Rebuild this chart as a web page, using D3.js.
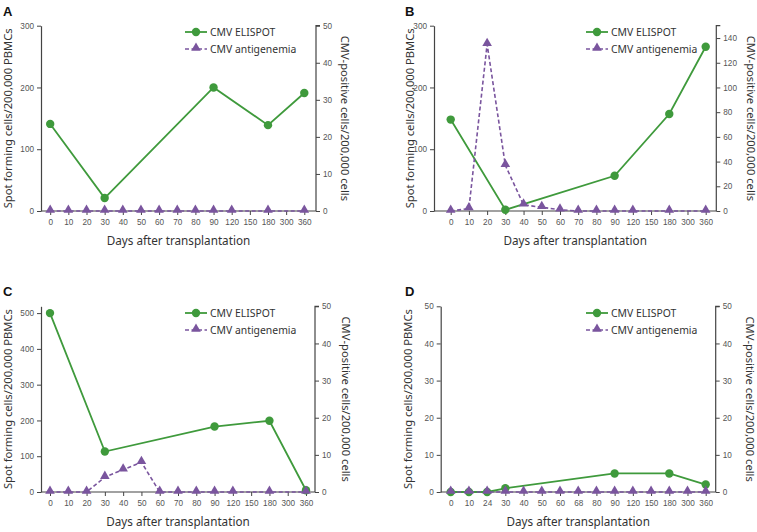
<!DOCTYPE html>
<html><head><meta charset="utf-8">
<script src="https://cdn.jsdelivr.net/npm/d3@7"></script>
<style>body{margin:0;background:#fff}svg{display:block}</style>
</head><body>
<svg id="c" width="757" height="532"></svg>
<script>
// ---- data ----
const daysA = ["0","10","20","30","40","50","60","70","80","90","120","150","180","300","360"];
const daysB = ["0","10","20","30","40","50","60","70","80","90","120","150","180","300","360"];
const daysC = ["0","10","20","30","40","50","60","70","80","90","120","150","180","300","360"];
const daysD = ["0","10","24","30","40","50","60","68","80","90","120","150","180","300","360"];

const elispotA = [["0",141],["30",21],["90",200],["180",139],["360",191]];
const antigenA = [["0",0],["10",0],["20",0],["30",0],["40",0],["50",0],["60",0],["70",0],["80",0],["90",0],["120",0],["180",0],["360",0]];

const elispotB = [["0",148],["30",2],["90",57],["180",157],["360",266]];
const antigenB = [["0",0],["10",2],["20",135],["30",37],["40",5],["50",3],["60",1],["70",0],["80",0],["90",0],["120",0],["180",0],["360",0]];

const elispotC = [["0",500],["30",113],["90",183],["180",199],["360",5]];
const antigenC = [["0",0],["10",0],["20",0],["30",4],["40",6],["50",8],["60",0],["70",0],["80",0],["90",0],["120",0],["180",0],["360",0]];

const elispotD = [["0",0],["10",0],["24",0],["30",1],["90",5],["180",5],["360",2]];
const antigenD = [["0",0],["10",0],["24",0],["30",0],["40",0],["50",0],["60",0],["68",0],["80",0],["90",0],["120",0],["150",0],["180",0],["300",0],["360",0]];

const leftTicksA = [0,100,200,300], rightTicksA = [0,10,20,30,40,50];
const leftTicksB = [0,100,200,300], rightTicksB = [0,20,40,60,80,100,120,140];
const leftTicksC = [0,100,200,300,400,500], rightTicksC = [0,10,20,30,40,50];
const leftTicksD = [0,10,20,30,40,50], rightTicksD = [0,10,20,30,40,50];

const seriesNames = ["CMV ELISPOT","CMV antigenemia"];
const yLeftTitle = "Spot forming cells/200,000 PBMCs";
const yRightTitle = "CMV-positive cells/200,000 cells";
const xTitle = "Days after transplantation";

// ---- layout ----
const GREEN = "#3f9a3c", PURPLE = "#7a559e", AXIS = "#444", TICKTXT = "#555";
const panels = [
  {label:"A", lx:3, ly:16, days:daysA, el:elispotA, ag:antigenA, lt:leftTicksA, rt:rightTicksA, ldom:[0,300], rdom:[0,50],
   L:41, R:316, top:25.7, bot:211, x0:50.2, x1:304.3, ltx:7, rtx:345, legX:185, legY:32},
  {label:"B", lx:405, ly:16, days:daysB, el:elispotB, ag:antigenB, lt:leftTicksB, rt:rightTicksB, ldom:[0,300], rdom:[0,150],
   L:434, R:716.3, top:25.7, bot:211, x0:450.7, x1:705.7, ltx:409, rtx:751, legX:586, legY:32},
  {label:"C", lx:3, ly:296, days:daysC, el:elispotC, ag:antigenC, lt:leftTicksC, rt:rightTicksC, ldom:[0,519], rdom:[0,50],
   L:41, R:315, top:306.3, bot:492, x0:50, x1:306, ltx:7.5, rtx:346, legX:185, legY:313},
  {label:"D", lx:405, ly:296, days:daysD, el:elispotD, ag:antigenD, lt:leftTicksD, rt:rightTicksD, ldom:[0,50], rdom:[0,50],
   L:440.7, R:715.7, top:306.3, bot:492, x0:450.7, x1:705.7, ltx:407, rtx:750, legX:586, legY:313}
];

const svg = d3.select("#c");
const tri = d3.symbol().type(d3.symbolTriangle).size(40);
const tf = "Noto Sans, Open Sans, sans-serif";
const nf = "Liberation Sans, Arial, sans-serif";

panels.forEach(p => {
  const g = svg.append("g");
  const x = d3.scalePoint().domain(p.days).range([p.x0, p.x1]);
  const yl = d3.scaleLinear().domain(p.ldom).range([p.bot, p.top]);
  const yr = d3.scaleLinear().domain(p.rdom).range([p.bot, p.top]);

  g.append("text").attr("x", p.lx).attr("y", p.ly).text(p.label)
    .attr("font-family",nf).attr("font-weight","bold").attr("font-size",13).attr("fill","#111");

  // x axis
  const xa = g.append("g").attr("transform",`translate(0,${p.bot})`)
    .call(d3.axisBottom(x).tickSize(4).tickPadding(4));
  xa.select(".domain").remove();
  g.append("line").attr("x1",p.L).attr("x2",p.R).attr("y1",p.bot).attr("y2",p.bot).attr("stroke",AXIS).attr("stroke-width",1.2);

  const la = g.append("g").attr("transform",`translate(${p.L},0)`)
    .call(d3.axisLeft(yl).tickValues(p.lt).tickSize(4).tickPadding(3).tickSizeOuter(0));
  const ra = g.append("g").attr("transform",`translate(${p.R},0)`)
    .call(d3.axisRight(yr).tickValues(p.rt).tickSize(4).tickPadding(3).tickSizeOuter(0));
  [xa,la,ra].forEach(a => {
    a.selectAll("text").attr("font-family",nf).attr("font-size",8.2).attr("fill",TICKTXT);
    a.selectAll("line").attr("stroke",AXIS);
    a.select(".domain").attr("stroke",AXIS).attr("stroke-width",1.2);
  });
  ra.select(".domain").attr("d",`M0,${p.bot}V${p.top}H4`);

  // titles
  g.append("text").attr("transform",`translate(${p.ltx},${(p.top+p.bot)/2}) rotate(-90)`)
    .attr("text-anchor","middle").attr("dominant-baseline","central")
    .attr("font-family",tf).attr("font-size",11.2).attr("fill","#333").text(yLeftTitle);
  g.append("text").attr("transform",`translate(${p.rtx},${(p.top+p.bot)/2}) rotate(90)`)
    .attr("text-anchor","middle").attr("dominant-baseline","central")
    .attr("font-family",tf).attr("font-size",11.2).attr("fill","#333").text(yRightTitle);
  g.append("text").attr("x",(p.L+p.R)/2).attr("y",p.bot+34).attr("text-anchor","middle")
    .attr("font-family",tf).attr("font-size",11.7).attr("fill","#333").text(xTitle);

  // ELISPOT
  const le = d3.line().x(d => x(d[0])).y(d => yl(d[1]));
  g.append("path").datum(p.el).attr("d",le).attr("fill","none").attr("stroke",GREEN).attr("stroke-width",1.8);
  g.selectAll(".ce").data(p.el).join("circle").attr("cx",d=>x(d[0])).attr("cy",d=>yl(d[1])).attr("r",4.2).attr("fill",GREEN);

  // antigenemia
  const la2 = d3.line().x(d => x(d[0])).y(d => yr(d[1]));
  g.append("path").datum(p.ag).attr("d",la2).attr("fill","none").attr("stroke",PURPLE).attr("stroke-width",1.6).attr("stroke-dasharray","4,2.5");
  g.selectAll(".ta").data(p.ag).join("path").attr("d",tri)
    .attr("transform",d=>`translate(${x(d[0])},${yr(d[1])-1})`).attr("fill",PURPLE);

  // legend
  const lg = g.append("g").attr("transform",`translate(${p.legX},${p.legY})`);
  lg.append("line").attr("x1",0).attr("x2",22).attr("y1",0).attr("y2",0).attr("stroke",GREEN).attr("stroke-width",1.8);
  lg.append("circle").attr("cx",11).attr("cy",0).attr("r",4.2).attr("fill",GREEN);
  lg.append("line").attr("x1",0).attr("x2",22).attr("y1",17).attr("y2",17).attr("stroke",PURPLE).attr("stroke-width",1.6).attr("stroke-dasharray","4,2.5");
  lg.append("path").attr("d",tri).attr("transform","translate(11,16)").attr("fill",PURPLE);
  lg.selectAll(".lt").data(seriesNames).join("text").attr("x",25).attr("y",(d,i)=>i*17).attr("dominant-baseline","central")
    .attr("font-family",tf).attr("font-size",10.4).attr("fill","#333").text(d=>d);
});
</script>
</body></html>
